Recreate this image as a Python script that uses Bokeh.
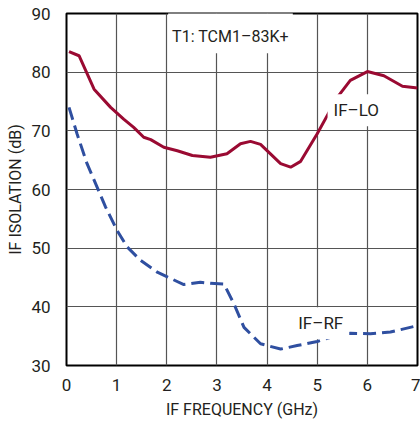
from bokeh.plotting import figure
from bokeh.models import Label, Range1d, FixedTicker
from bokeh.embed import file_html
from bokeh.resources import INLINE

# IF-LO isolation (solid)
lo_f = [0.05, 0.25, 0.55, 0.88, 1.14, 1.34, 1.54, 1.68, 1.94, 2.21, 2.51, 2.87,
        3.2, 3.47, 3.67, 3.87, 4.27, 4.47, 4.67, 5.0, 5.4, 5.66, 6.0, 6.33, 6.7, 7.0]
lo_db = [83.5, 82.8, 77.1, 74.0, 72.0, 70.6, 68.9, 68.5, 67.2, 66.6, 65.8, 65.5,
         66.1, 67.8, 68.2, 67.7, 64.4, 63.8, 64.8, 69.5, 75.7, 78.6, 80.1, 79.4, 77.6, 77.3]

# IF-RF isolation (dashed)
rf_f = [0.05, 0.21, 0.41, 0.78, 1.01, 1.21, 1.48, 1.81, 2.01, 2.34, 2.67, 2.87,
        3.14, 3.34, 3.54, 3.87, 4.27, 4.6, 5.0, 5.27, 5.66, 6.06, 6.46, 7.0]
rf_db = [74.0, 69.5, 64.4, 57.0, 53.0, 50.2, 47.9, 45.9, 45.1, 43.8, 44.2, 44.0,
         43.9, 40.5, 36.5, 33.7, 32.8, 33.4, 34.1, 34.8, 35.5, 35.4, 35.7, 36.8]

x_ticks = [0, 1, 2, 3, 4, 5, 6, 7]
y_ticks = [30, 40, 50, 60, 70, 80, 90]

FONT = "Roboto"
TXT = "#231f20"

p = figure(width=420, height=421, output_backend="svg", toolbar_location=None,
           x_range=Range1d(0, 7), y_range=Range1d(30, 90),
           min_border_left=66, min_border_right=3, min_border_top=13, min_border_bottom=56)

p.outline_line_color = "black"
p.outline_line_width = 2

for ax in (p.xaxis[0], p.yaxis[0]):
    ax.major_tick_line_color = None
    ax.minor_tick_line_color = None
    ax.axis_line_color = None
    ax.major_label_text_font = FONT
    ax.major_label_text_font_size = "17px"
    ax.major_label_text_color = TXT
    ax.axis_label_text_font = FONT
    ax.axis_label_text_font_size = "16px"
    ax.axis_label_text_font_style = "normal"
    ax.axis_label_text_color = TXT

p.xaxis.major_label_standoff = 7
p.yaxis.major_label_standoff = 10
p.xaxis.ticker = FixedTicker(ticks=x_ticks)
p.yaxis.ticker = FixedTicker(ticks=y_ticks)
p.xaxis.axis_label = "IF FREQUENCY (GHz)"
p.yaxis.axis_label = "IF ISOLATION (dB)"
p.xaxis.axis_label_standoff = 6
p.yaxis.axis_label_standoff = 3

p.xgrid.ticker = FixedTicker(ticks=x_ticks[1:-1])
p.ygrid.ticker = FixedTicker(ticks=y_ticks[1:-1])
for g in (p.xgrid[0], p.ygrid[0]):
    g.grid_line_color = "#555555"
    g.grid_line_width = 1.2

p.line(lo_f, lo_db, line_color="#9a0a32", line_width=3)
p.line(rf_f, rf_db, line_color="#2f4fa0", line_width=3, line_dash="13 6")

def lab(x, y, t, size="17px", pad=6):
    p.add_layout(Label(x=x, y=y, text=t, text_align="center", text_baseline="middle",
                       text_font=FONT, text_font_size=size, text_color=TXT,
                       background_fill_color="white", padding=pad))

lab(3.27, 86.8, "T1: TCM1\u201383K+", "16px", dict(left=4, right=4, top=16, bottom=7))
lab(5.78, 73.5, "IF\u2013LO")
lab(5.07, 37.2, "IF\u2013RF")

open("out.html", "w").write(file_html(p, INLINE))
